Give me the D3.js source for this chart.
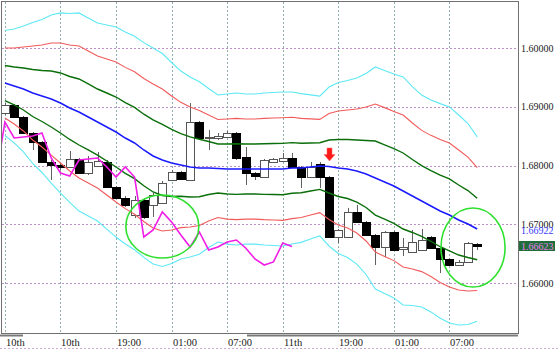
<!DOCTYPE html>
<html><head><meta charset="utf-8">
<script src="https://cdn.jsdelivr.net/npm/d3@7/dist/d3.min.js"></script>
<style>html,body{margin:0;padding:0;background:#fff;overflow:hidden}</style>
</head><body>
<svg id="chart" width="559" height="350"></svg>
<script>
// ---- data ----
const timeLabels = ["10th","10th","19:00","01:00","07:00","11th","19:00","01:00","07:00"];
const timeLabelIdx = [0,6,12,18,24,30,36,42,48];
const opens  = [1.68894,1.69030,1.68826,1.68553,1.68400,1.68060,1.68009,1.67975,1.68111,1.67872,1.67991,1.68060,1.67634,1.67447,1.67158,1.67413,1.67328,1.67362,1.67753,1.67889,1.67753,1.68740,1.68468,1.68468,1.68485,1.68553,1.68145,1.67872,1.67804,1.68060,1.68077,1.68128,1.67975,1.67804,1.68026,1.67804,1.66783,1.66783,1.67209,1.67038,1.66817,1.66613,1.66868,1.66579,1.66528,1.66562,1.66783,1.66596,1.66409,1.66306,1.66358,1.66664];
const highs  = [1.69064,1.69047,1.68843,1.68570,1.68417,1.68094,1.68043,1.68247,1.68128,1.68162,1.68230,1.68094,1.67651,1.67481,1.67481,1.67447,1.67532,1.67736,1.67923,1.67906,1.69064,1.68758,1.68604,1.68553,1.68587,1.68570,1.68315,1.67889,1.68111,1.68128,1.68213,1.68213,1.67991,1.68060,1.68060,1.67821,1.66919,1.67277,1.67328,1.67055,1.66834,1.66885,1.66885,1.66766,1.66902,1.66919,1.66800,1.66613,1.66426,1.66392,1.66698,1.66681];
const lows   = [1.68860,1.68809,1.68536,1.68264,1.68043,1.67753,1.67923,1.67958,1.67855,1.67838,1.67975,1.67617,1.67430,1.67294,1.67106,1.67089,1.67123,1.67345,1.67736,1.67753,1.67736,1.68451,1.68264,1.68434,1.68468,1.68094,1.67668,1.67753,1.67787,1.68043,1.68060,1.67958,1.67617,1.67787,1.67617,1.66766,1.66681,1.66766,1.67021,1.66800,1.66306,1.66443,1.66545,1.66460,1.66511,1.66545,1.66579,1.66170,1.66289,1.66289,1.66341,1.66562];
const closes = [1.69030,1.68826,1.68553,1.68400,1.68060,1.68009,1.67975,1.68111,1.67872,1.68060,1.68077,1.67634,1.67447,1.67328,1.67413,1.67123,1.67498,1.67702,1.67889,1.67770,1.68740,1.68468,1.68485,1.68502,1.68553,1.68128,1.67872,1.67821,1.68094,1.68111,1.68128,1.67975,1.67804,1.67975,1.67804,1.66783,1.66902,1.67209,1.67038,1.66817,1.66613,1.66868,1.66562,1.66613,1.66698,1.66732,1.66596,1.66409,1.66306,1.66358,1.66681,1.66623];
const maMid  = [1.69404,1.69353,1.69302,1.69234,1.69183,1.69132,1.69064,1.68979,1.68911,1.68826,1.68740,1.68655,1.68570,1.68468,1.68383,1.68264,1.68162,1.68094,1.68043,1.68009,1.67975,1.67958,1.67958,1.67949,1.67940,1.67940,1.67940,1.67940,1.67940,1.67940,1.67940,1.67958,1.67958,1.67975,1.67991,1.67983,1.67958,1.67940,1.67906,1.67855,1.67787,1.67719,1.67651,1.67566,1.67481,1.67396,1.67311,1.67226,1.67158,1.67072,1.67004,1.66919];
const bandSd = [0.00298,0.00323,0.00357,0.00400,0.00434,0.00477,0.00511,0.00536,0.00562,0.00562,0.00562,0.00579,0.00596,0.00601,0.00606,0.00609,0.00613,0.00604,0.00570,0.00533,0.00511,0.00489,0.00451,0.00417,0.00426,0.00431,0.00426,0.00426,0.00431,0.00434,0.00437,0.00431,0.00422,0.00409,0.00397,0.00451,0.00485,0.00502,0.00528,0.00570,0.00630,0.00633,0.00635,0.00647,0.00621,0.00601,0.00601,0.00609,0.00613,0.00596,0.00570,0.00523];
const laggingShift = 20;
const bandMult = [3, 2, 1];
const bandColors = ["#5ee8f5", "#f25a5a", "#0a6e0a"];
const priceTicks = [1.70, 1.69, 1.68, 1.67, 1.66];
const priceTickLabels = ["1.60000", "1.69000", "1.68000", "1.67000", "1.66000"];
const maLabel = "1.66922";
const lastLabel = "1.66623";
// annotations (data coords: bar index, price)
const ellipses = [{i:17.0, p:1.66962, ri:3.94, rp:0.00536}, {i:50.55, p:1.66604, ri:3.46, rp:0.00672}];
const arrowAt = {i:35, top:1.68298, tip:1.68077};

// ---- layout ----
const W = 559, H = 350;
const plot = {l:2, r:518, t:2, b:333};
const svg = d3.select("#chart");
const x = d3.scaleLinear().domain([0, 51]).range([4.9, 477.2]);
const y = d3.scaleLinear().domain([1.66, 1.70]).range([283, 48]);
const N = closes.length;
const serif = "'Liberation Serif', 'DejaVu Serif', serif";

svg.append("defs").append("clipPath").attr("id","clip")
  .append("rect").attr("x",plot.l).attr("y",plot.t).attr("width",plot.r-plot.l).attr("height",plot.b-plot.t);

// grid
const g = svg.append("g");
g.selectAll("line.h").data(priceTicks).join("line")
  .attr("x1", plot.l).attr("x2", plot.r)
  .attr("y1", d => Math.round(y(d)) + 0.5).attr("y2", d => Math.round(y(d)) + 0.5)
  .attr("stroke", "#c08ec8").attr("stroke-dasharray", "2,2");
g.selectAll("line.v").data(timeLabelIdx).join("line")
  .attr("x1", d => Math.round(x(d)) + 0.5).attr("x2", d => Math.round(x(d)) + 0.5)
  .attr("y1", plot.t).attr("y2", plot.b)
  .attr("stroke", "#8fb0b0").attr("stroke-dasharray", "2,2");

const plotG = svg.append("g").attr("clip-path", "url(#clip)");

// candles
const idx = d3.range(N);
const cg = plotG.append("g");
cg.selectAll("line.wick").data(idx).join("line")
  .attr("x1", i => Math.round(x(i)) + 0.5).attr("x2", i => Math.round(x(i)) + 0.5)
  .attr("y1", i => y(highs[i])).attr("y2", i => y(lows[i]))
  .attr("stroke", "#606060").attr("stroke-width", 1);
cg.selectAll("rect.body").data(idx).join("rect")
  .attr("x", i => Math.round(x(i)) - 3.5)
  .attr("width", 8)
  .attr("y", i => Math.round(y(Math.max(opens[i], closes[i]))) + 0.5)
  .attr("height", i => Math.max(1, Math.round(Math.abs(y(opens[i]) - y(closes[i])))))
  .attr("fill", i => closes[i] >= opens[i] ? "#ffffff" : "#000000")
  .attr("stroke", i => closes[i] >= opens[i] ? "#555555" : "#000000")
  .attr("stroke-width", 1);

// bands
const line = d3.line().x(d => x(d[0])).y(d => y(d[1]));
bandMult.forEach((k, j) => {
  [1, -1].forEach(s => {
    plotG.append("path")
      .attr("d", line(idx.map(i => [i, maMid[i] + s * k * bandSd[i]])))
      .attr("fill", "none").attr("stroke", bandColors[j]).attr("stroke-width", k === 1 ? 1.4 : 1.1);
  });
});
plotG.append("path").attr("d", line(idx.map(i => [i, maMid[i]])))
  .attr("fill", "none").attr("stroke", "#1a1aff").attr("stroke-width", 1.5);

// lagging span
const lagPts = d3.range(-1, N - laggingShift).map(i => [i, closes[i + laggingShift]]);
plotG.append("path").attr("d", line(lagPts))
  .attr("fill", "none").attr("stroke", "#f01ee6").attr("stroke-width", 1.6);

// annotation ellipses
plotG.selectAll("ellipse").data(ellipses).join("ellipse")
  .attr("cx", d => x(d.i)).attr("cy", d => y(d.p))
  .attr("rx", d => x(d.i + d.ri) - x(d.i)).attr("ry", d => y(d.p - d.rp) - y(d.p))
  .attr("fill", "none").attr("stroke", "#2fe02f").attr("stroke-width", 1.6);

// arrow
const ax = Math.round(x(arrowAt.i)) + 0.5, at = y(arrowAt.top), ap = y(arrowAt.tip);
const mid = at + (ap - at) * 0.5;
svg.append("path")
  .attr("d", `M${ax-2.5},${at} L${ax+2.5},${at} L${ax+2.5},${mid} L${ax+5.5},${mid} L${ax},${ap} L${ax-5.5},${mid} L${ax-2.5},${mid} Z`)
  .attr("fill", "#ff1a1a").attr("stroke", "#ff6060").attr("stroke-width", 0.5);

// frame
svg.append("rect").attr("x", plot.l - 0.5).attr("y", plot.t - 0.5)
  .attr("width", plot.r - plot.l + 1).attr("height", plot.b - plot.t + 1)
  .attr("fill", "none").attr("stroke", "#707070");
// bottom scroll bars
svg.append("rect").attr("x", 0).attr("y", 334.5).attr("width", 23).attr("height", 2).attr("fill", "#7a7a7a");
svg.append("rect").attr("x", 247).attr("y", 334.5).attr("width", 271).attr("height", 2).attr("fill", "#7a7a7a");
svg.append("line").attr("x1", 0).attr("x2", W).attr("y1", 348.5).attr("y2", 348.5)
  .attr("stroke", "#d0a8d8").attr("stroke-dasharray", "2,2");

// x labels
svg.selectAll("text.xl").data(timeLabelIdx).join("text")
  .attr("x", d => Math.round(x(d)) + 1).attr("y", 346)
  .attr("font-family", serif).attr("font-size", 10.5).attr("fill", "#202020")
  .text((d, i) => timeLabels[i]);

// y labels
svg.selectAll("text.yl").data(priceTicks).join("text")
  .attr("x", 521).attr("y", d => y(d) + 3.5)
  .attr("font-family", serif).attr("font-size", 10).attr("fill", "#202020")
  .text((d, i) => priceTickLabels[i]);

// ma value label
svg.append("text").attr("x", 521).attr("y", y(maMid[N-1]) + 5)
  .attr("font-family", serif).attr("font-size", 10).attr("fill", "#3a3aff").text(maLabel);
// last price box
const ly = y(closes[N-1]);
svg.append("rect").attr("x", 519).attr("y", Math.round(ly) - 5).attr("width", 36).attr("height", 10).attr("fill", "#1f6e3a");
svg.append("text").attr("x", 521).attr("y", ly + 3.5)
  .attr("font-family", serif).attr("font-size", 10).attr("fill", "#f27cf0").text(lastLabel);
</script>
</body></html>
